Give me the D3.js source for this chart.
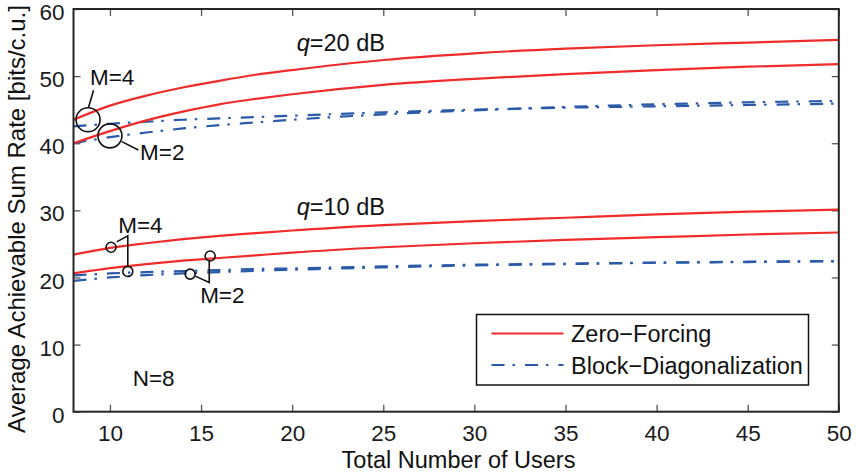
<!DOCTYPE html>
<html>
<head>
<meta charset="utf-8">
<script src="https://cdn.jsdelivr.net/npm/d3@7"></script>
<style>
  html, body { margin: 0; padding: 0; background: #fff; }
  svg { display: block; font-family: "Liberation Sans", Arial, Helvetica, sans-serif; }
</style>
</head>
<body>
<svg id="chart" width="856" height="476"></svg>
<script>
// Number of users (x samples shared by every curve)
const users = [8, 10, 12, 14, 16, 18, 20, 25, 30, 35, 40, 45, 50];

// Zero-Forcing sum rates [bits/c.u.]
const zf20M4 = [43.5, 45.6, 47.1, 48.3, 49.3, 50.2, 50.9, 52.4, 53.4, 54.1, 54.6, 55.0, 55.4];
const zf20M2 = [40.0, 41.8, 43.4, 44.7, 45.8, 46.6, 47.3, 48.7, 49.6, 50.3, 50.9, 51.4, 51.8];
const zf10M4 = [23.4, 24.4, 25.1, 25.7, 26.2, 26.6, 27.0, 27.8, 28.4, 28.9, 29.4, 29.8, 30.1];
const zf10M2 = [20.6, 21.4, 22.0, 22.5, 22.9, 23.3, 23.7, 24.5, 25.1, 25.6, 26.0, 26.4, 26.7];

// Block-Diagonalization sum rates [bits/c.u.]
const bd20M4 = [42.5, 42.9, 43.2, 43.5, 43.7, 43.9, 44.1, 44.6, 45.0, 45.3, 45.5, 45.7, 45.9];
const bd20M2 = [40.0, 40.9, 41.6, 42.2, 42.7, 43.1, 43.5, 44.3, 44.9, 45.4, 45.8, 46.1, 46.3];
const bd10M4 = [20.3, 20.6, 20.8, 20.95, 21.1, 21.25, 21.35, 21.65, 21.9, 22.05, 22.2, 22.3, 22.4];
const bd10M2 = [19.5, 20.0, 20.35, 20.6, 20.8, 21.0, 21.15, 21.5, 21.8, 22.0, 22.2, 22.35, 22.45];

// Axis ticks
const xTicks = [10, 15, 20, 25, 30, 35, 40, 45, 50];
const yTicks = [0, 10, 20, 30, 40, 50, 60];

// Legend entries
const legendNames = ["Zero\u2212Forcing", "Block\u2212Diagonalization"];

// Annotation anchors in data units (circles and leader lines)
const bigCircles = [[8.8, 43.5], [10.0, 41.1]];
const bigLeaders = [
  [[8.82, 45.3], [9.1, 47.9]],
  [[10.65, 40.24], [11.56, 39.0]]
];
const smallCircles = [[10.06, 24.5], [10.98, 20.9], [14.4, 20.5], [15.5, 23.2]];
const smallLeaders = [
  [[10.37, 25.3], [10.98, 26.2], [10.98, 21.6]],
  [[14.68, 20.2], [15.45, 19.25], [15.45, 22.45]]
];
const annoLabels = [
  { text: "M=4", at: [8.9, 48.7] },
  { text: "M=2", at: [11.65, 37.5] },
  { text: "M=4", at: [10.45, 26.65] },
  { text: "M=2", at: [14.95, 16.2] }
];
const snrLabels = [
  { q: "q", rest: "=20 dB", at: [20.25, 53.7] },
  { q: "q", rest: "=10 dB", at: [20.25, 29.3] }
];
const noteText = { text: "N=8", at: [11.25, 3.8] };

const svg = d3.select("#chart");
const L = 73.5, R = 838.8, T = 9, B = 411.7;

const x = d3.scaleLinear().domain([8, 50]).range([L, R]);
const y = d3.scaleLinear().domain([0, 60]).range([B, T]);

const RED = "#ef2b2b";
const BLUE = "#2a5aa8";
const AXIS = "#262626";
const DASH = "13,8,2.5,10";

// Frame ticks (inward on all four sides)
const tickLen = 7;
const axB = svg.append("g").attr("transform", `translate(0,${B})`)
  .call(d3.axisBottom(x).tickValues(xTicks).tickSizeInner(-tickLen).tickSizeOuter(0).tickPadding(13));
const axT = svg.append("g").attr("transform", `translate(0,${T})`)
  .call(d3.axisTop(x).tickValues(xTicks).tickSizeInner(-tickLen).tickSizeOuter(0).tickFormat(""));
const axL = svg.append("g").attr("transform", `translate(${L},0)`)
  .call(d3.axisLeft(y).tickValues(yTicks).tickSizeInner(-tickLen).tickSizeOuter(0).tickPadding(9));
const axR = svg.append("g").attr("transform", `translate(${R},0)`)
  .call(d3.axisRight(y).tickValues(yTicks).tickSizeInner(-tickLen).tickSizeOuter(0).tickFormat(""));

[axB, axT, axL, axR].forEach(g => {
  g.select(".domain").remove();
  g.selectAll(".tick line").attr("stroke", "#555").attr("stroke-width", 1.3);
  g.selectAll("text").attr("fill", "#1a1a1a").style("font-size", "22.5px")
    .style("font-family", "'Liberation Sans', Arial, Helvetica, sans-serif");
});
axB.selectAll(".tick text").attr("dy", "0.71em");
axL.selectAll(".tick text").attr("dy", "0.47em");

// Curves
const line = d3.line()
  .x((d, i) => x(users[i]))
  .y(d => y(d))
  .curve(d3.curveMonotoneX);

const curves = [
  { v: bd20M4, c: BLUE, dash: DASH },
  { v: bd20M2, c: BLUE, dash: DASH },
  { v: bd10M4, c: BLUE, dash: DASH },
  { v: bd10M2, c: BLUE, dash: DASH },
  { v: zf20M4, c: RED, dash: null },
  { v: zf20M2, c: RED, dash: null },
  { v: zf10M4, c: RED, dash: null },
  { v: zf10M2, c: RED, dash: null }
];

const plot = svg.append("g");
plot.selectAll("path.curve").data(curves).join("path")
  .attr("class", "curve")
  .attr("d", d => line(d.v))
  .attr("fill", "none")
  .attr("stroke", d => d.c)
  .attr("stroke-width", 2.2)
  .attr("stroke-dasharray", d => d.dash);

// Frame box
svg.append("rect")
  .attr("x", L).attr("y", T)
  .attr("width", R - L).attr("height", B - T)
  .attr("fill", "none").attr("stroke", AXIS).attr("stroke-width", 2);

// Annotations
const anno = svg.append("g").attr("stroke", "#111").attr("fill", "none").attr("stroke-width", 1.6);
anno.selectAll("circle.big").data(bigCircles).join("circle")
  .attr("class", "big")
  .attr("cx", d => x(d[0])).attr("cy", d => y(d[1])).attr("r", 12);
anno.selectAll("circle.small").data(smallCircles).join("circle")
  .attr("class", "small")
  .attr("cx", d => x(d[0])).attr("cy", d => y(d[1])).attr("r", 5);
const pl = d3.line().x(d => x(d[0])).y(d => y(d[1]));
anno.selectAll("path.lead").data(bigLeaders.concat(smallLeaders)).join("path")
  .attr("class", "lead").attr("d", pl);

const txt = svg.append("g").attr("fill", "#111").style("font-size", "22.5px");
txt.selectAll("text.m").data(annoLabels).join("text")
  .attr("class", "m")
  .attr("x", d => x(d.at[0])).attr("y", d => y(d.at[1]))
  .text(d => d.text);

const snr = txt.selectAll("text.q").data(snrLabels).join("text")
  .attr("class", "q")
  .style("font-size", "23.5px")
  .attr("x", d => x(d.at[0])).attr("y", d => y(d.at[1]));
snr.append("tspan").style("font-style", "italic").text(d => d.q);
snr.append("tspan").text(d => d.rest);

txt.append("text")
  .attr("x", x(noteText.at[0])).attr("y", y(noteText.at[1]))
  .text(noteText.text);

// Legend
const lg = svg.append("g");
lg.append("rect")
  .attr("x", 476.5).attr("y", 314.5).attr("width", 332).attr("height", 70.5)
  .attr("fill", "#fff").attr("stroke", "#111").attr("stroke-width", 1.5);
const legItems = [
  { name: legendNames[0], c: RED, dash: null },
  { name: legendNames[1], c: BLUE, dash: DASH }
];
legItems.forEach((it, i) => {
  const yy = 333.5 + i * 31.5;
  lg.append("line")
    .attr("x1", 491.5).attr("x2", 563.5).attr("y1", yy).attr("y2", yy)
    .attr("stroke", it.c).attr("stroke-width", 2.2)
    .attr("stroke-dasharray", it.dash);
  lg.append("text")
    .attr("x", 571).attr("y", yy + 8.5)
    .attr("fill", "#111").style("font-size", "23.5px")
    .text(it.name);
});

// Axis titles
svg.append("text")
  .attr("x", 458.5).attr("y", 468)
  .attr("text-anchor", "middle")
  .attr("fill", "#111").style("font-size", "23.5px")
  .text("Total Number of Users");
svg.append("text")
  .attr("transform", "translate(25,219) rotate(-90)")
  .attr("text-anchor", "middle")
  .attr("fill", "#111").style("font-size", "24px")
  .text("Average Achievable Sum Rate [bits/c.u.]");
</script>
</body>
</html>
